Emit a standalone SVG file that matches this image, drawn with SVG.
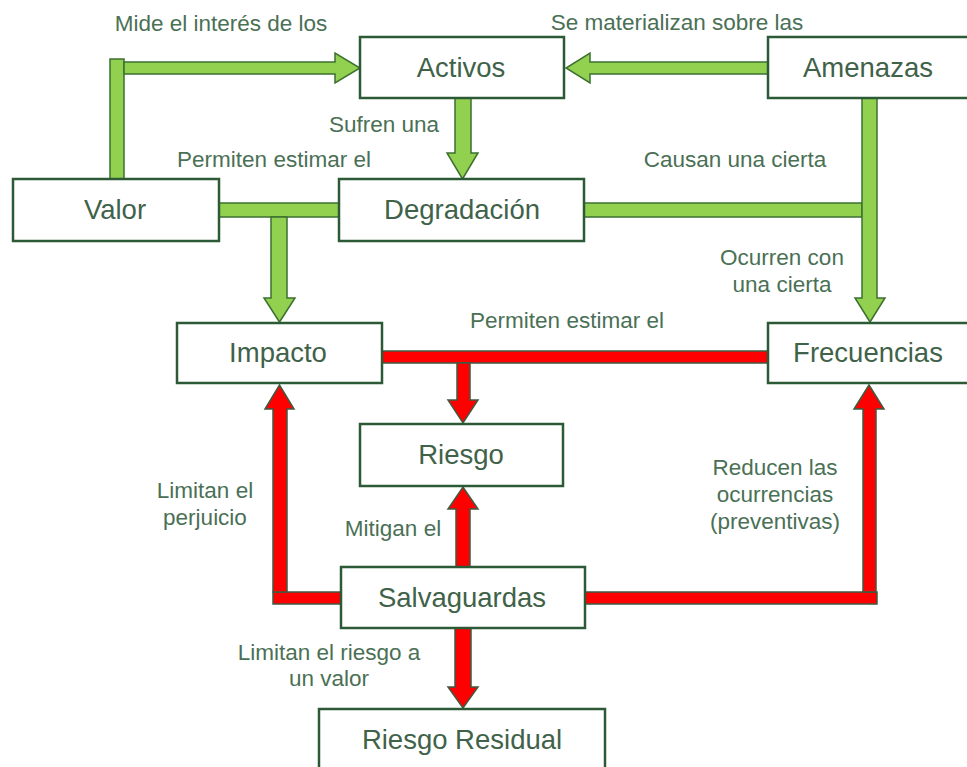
<svg xmlns="http://www.w3.org/2000/svg" width="967" height="767" viewBox="0 0 967 767">
<style>
.box{fill:#ffffff;stroke:#2d5a36;stroke-width:2.5}
.nt{font-family:"Liberation Sans",Arial,sans-serif;font-size:27.5px;fill:#3f6249;text-anchor:middle}
.lb{font-family:"Liberation Sans",Arial,sans-serif;font-size:22.5px;fill:#4a7055;text-anchor:middle}
.g{fill:#92d050;stroke:#3d7030;stroke-width:1.5;stroke-linejoin:miter}
.r{fill:#ff0000;stroke:#3f5a40;stroke-width:1.5;stroke-linejoin:miter}
</style>
<rect width="967" height="767" fill="#ffffff"/>
<g id="connectors">
  <!-- Valor -> Activos -->
  <rect class="g" x="110" y="59" width="14" height="120"/>
  <polygon class="g" points="124,62 335,62 335,53 360,68 335,83 335,74 124,74"/>
  <!-- Amenazas -> Activos -->
  <polygon class="g" points="768,62 590,62 590,53 566,68 590,83 590,74 768,74"/>
  <!-- Activos -> Degradacion -->
  <polygon class="g" points="455,98 471,98 471,153 478,153 462.5,179 447,153 455,153"/>
  <!-- Valor - Degradacion, down to Impacto -->
  <rect class="g" x="219" y="203" width="120" height="14"/>
  <polygon class="g" points="271,217 287,217 287,298 295,298 279.5,322 264,298 271,298"/>
  <!-- Degradacion - Amenazas, Amenazas -> Frecuencias -->
  <rect class="g" x="584" y="203" width="278" height="14"/>
  <polygon class="g" points="862,98 877,98 877,298 885,298 870,322 855,298 862,298"/>
  <!-- Impacto - Frecuencias -> Riesgo -->
  <rect class="r" x="382" y="351" width="386" height="12"/>
  <polygon class="r" points="457,363 470,363 470,400 478,400 463,423 448,400 457,400"/>
  <!-- Salvaguardas -> Impacto -->
  <rect class="r" x="273" y="592" width="68" height="12"/>
  <polygon class="r" points="273,592 287,592 287,409 294,409 279.5,385 265,409 273,409"/>
  <!-- Salvaguardas -> Riesgo -->
  <polygon class="r" points="456,567 470,567 470,509 478,509 463,487 448,509 456,509"/>
  <!-- Salvaguardas -> Frecuencias -->
  <rect class="r" x="585" y="592" width="292" height="12"/>
  <polygon class="r" points="863,592 876,592 876,409 884,409 869,385 854,409 863,409"/>
  <!-- Salvaguardas -> Riesgo Residual -->
  <polygon class="r" points="455,628 471,628 471,687 478,687 463,708 448,687 455,687"/>
</g>
<g id="labels">
  <text class="lb" x="221" y="31">Mide el interés de los</text>
  <text class="lb" x="677" y="30">Se materializan sobre las</text>
  <text class="lb" x="384" y="132">Sufren una</text>
  <text class="lb" x="274" y="167">Permiten estimar el</text>
  <text class="lb" x="735" y="167">Causan una cierta</text>
  <text class="lb" x="782" y="265">Ocurren con</text>
  <text class="lb" x="782" y="292">una cierta</text>
  <text class="lb" x="567" y="328">Permiten estimar el</text>
  <text class="lb" x="205" y="498">Limitan el</text>
  <text class="lb" x="205" y="525">perjuicio</text>
  <text class="lb" x="393" y="536">Mitigan el</text>
  <text class="lb" x="775" y="475">Reducen las</text>
  <text class="lb" x="775" y="502">ocurrencias</text>
  <text class="lb" x="775" y="529">(preventivas)</text>
  <text class="lb" x="329" y="660">Limitan el riesgo a</text>
  <text class="lb" x="329" y="686">un valor</text>
</g>
<g id="activos"><rect class="box" x="360" y="37" width="204" height="61"/><text class="nt" x="461" y="77">Activos</text></g>
<g id="amenazas"><rect class="box" x="768" y="37" width="202" height="61"/><text class="nt" x="868" y="77">Amenazas</text></g>
<g id="valor"><rect class="box" x="13" y="179" width="206" height="62"/><text class="nt" x="115" y="219">Valor</text></g>
<g id="degradacion"><rect class="box" x="339" y="179" width="245" height="62"/><text class="nt" x="462" y="219">Degradación</text></g>
<g id="impacto"><rect class="box" x="177" y="323" width="205" height="60"/><text class="nt" x="278" y="362">Impacto</text></g>
<g id="frecuencias"><rect class="box" x="768" y="323" width="202" height="60"/><text class="nt" x="868" y="362">Frecuencias</text></g>
<g id="riesgo"><rect class="box" x="360" y="424" width="203" height="62"/><text class="nt" x="461" y="464">Riesgo</text></g>
<g id="salvaguardas"><rect class="box" x="341" y="567" width="244" height="61"/><text class="nt" x="462" y="607">Salvaguardas</text></g>
<g id="riesgo-residual"><rect class="box" x="319" y="709" width="286" height="70"/><text class="nt" x="462" y="749">Riesgo Residual</text></g>
</svg>
